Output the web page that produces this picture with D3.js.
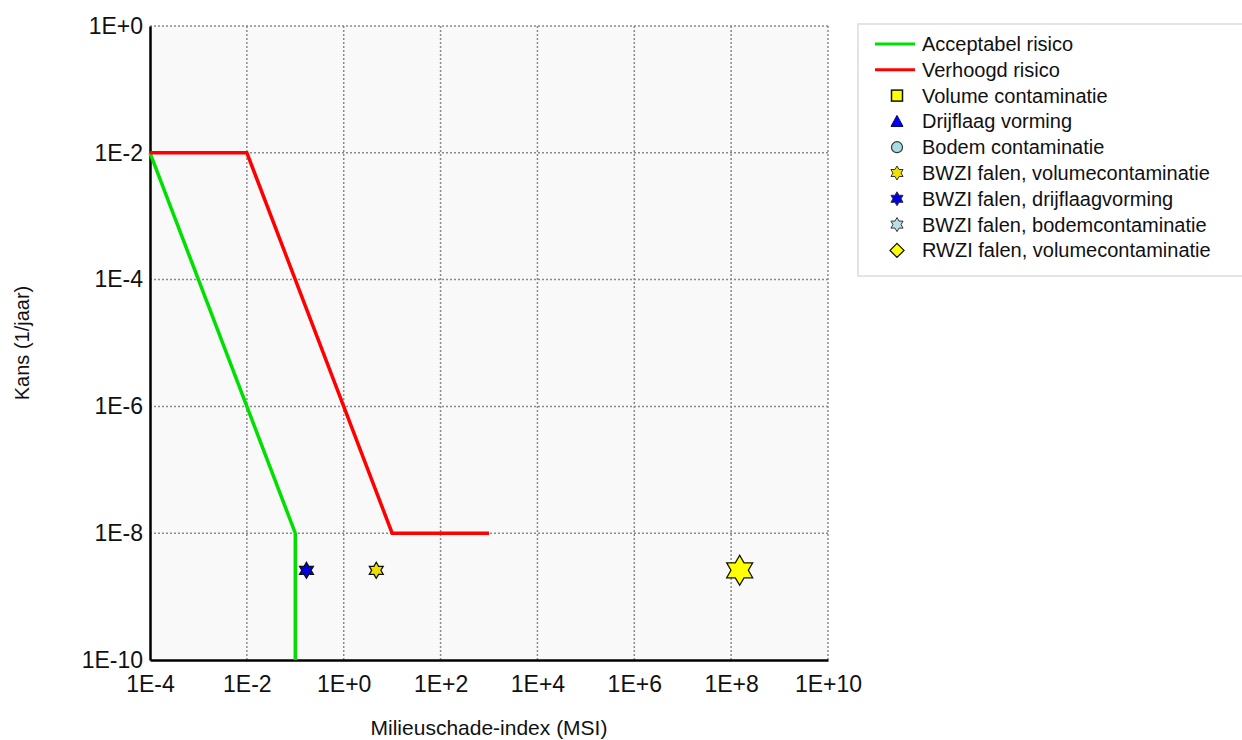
<!DOCTYPE html>
<html><head><meta charset="utf-8">
<script src="https://cdn.jsdelivr.net/npm/d3@7"></script>
<style>
html,body{margin:0;padding:0;background:#fff;}
text{font-family:"Liberation Sans",Arial,sans-serif;fill:#111;}
</style></head>
<body><svg id="c" width="1242" height="740"></svg>
<script>
// ---- data ----
const xTicks = [1e-4,1e-2,1e0,1e2,1e4,1e6,1e8,1e10];
const xTickLabels = ["1E-4","1E-2","1E+0","1E+2","1E+4","1E+6","1E+8","1E+10"];
const yTicks = [1e0,1e-2,1e-4,1e-6,1e-8,1e-10];
const yTickLabels = ["1E+0","1E-2","1E-4","1E-6","1E-8","1E-10"];
const acceptabelX = [1e-4, 1e-2, 0.1, 0.1];
const acceptabelY = [1e-2, 1e-6, 1e-8, 1e-10];
const verhoogdX = [1e-4, 1e-2, 10, 1000];
const verhoogdY = [1e-2, 1e-2, 1e-8, 1e-8];
const bwziDrijflaagX = [0.17];
const bwziDrijflaagY = [2.6e-9];
const bwziVolumeX = [4.7];
const bwziVolumeY = [2.6e-9];
const bwziVolumeLargeX = [1.5e8];
const bwziVolumeLargeY = [2.6e-9];
const legendLabels = ["Acceptabel risico","Verhoogd risico","Volume contaminatie","Drijflaag vorming","Bodem contaminatie","BWZI falen, volumecontaminatie","BWZI falen, drijflaagvorming","BWZI falen, bodemcontaminatie","RWZI falen, volumecontaminatie"];
const legendTypes = ["line","line","square","triangle","circle","star","star","star","diamond"];
const legendColors = ["#00e000","#ff0000","#ffff00","#0000ff","#a8dce0","#f0e000","#0000e0","#b8e0e8","#ffff00"];

// ---- layout ----
const svg = d3.select("#c");
const L=150, R=828, T=26, B=660;
const x = d3.scaleLog().domain([1e-4,1e10]).range([L,R]);
const y = d3.scaleLog().domain([1e-10,1e0]).range([B,T]);

svg.append("rect").attr("x",L).attr("y",T).attr("width",R-L).attr("height",B-T).attr("fill","#f9f9f9");

// grid
const grid = svg.append("g").attr("stroke","#8a8a8a").attr("stroke-width",1.5).attr("stroke-dasharray","2,2");
grid.selectAll(".gx").data(xTicks.slice(1)).join("line")
  .attr("x1",d=>x(d)).attr("x2",d=>x(d)).attr("y1",T).attr("y2",B);
grid.selectAll(".gy").data(yTicks.slice(0,-1)).join("line")
  .attr("x1",L).attr("x2",R).attr("y1",d=>y(d)).attr("y2",d=>y(d));

// axes
const xAxis = d3.axisBottom(x).tickValues(xTicks).tickFormat((d,i)=>xTickLabels[i]).tickSize(0).tickPadding(16);
const gx = svg.append("g").attr("transform",`translate(0,${B})`).call(xAxis);
gx.select(".domain").attr("stroke","#000").attr("stroke-width",2.5);
gx.selectAll("text").attr("font-size",23).attr("font-family","Liberation Sans, Arial, sans-serif").attr("fill","#111");

const yAxis = d3.axisLeft(y).tickValues(yTicks).tickFormat((d,i)=>yTickLabels[i]).tickSize(0).tickPadding(7);
const gy = svg.append("g").attr("transform",`translate(${L},0)`).call(yAxis);
gy.select(".domain").attr("stroke","#000").attr("stroke-width",2.5);
gy.selectAll("text").attr("font-size",23).attr("font-family","Liberation Sans, Arial, sans-serif").attr("fill","#111");

// titles
svg.append("text").attr("x",(L+R)/2).attr("y",735).attr("text-anchor","middle").attr("font-size",21).text("Milieuschade-index (MSI)");
svg.append("text").attr("transform",`translate(29,${(T+B)/2}) rotate(-90)`).attr("text-anchor","middle").attr("font-size",20).text("Kans (1/jaar)");

// lines
const line = d3.line().x(d=>x(d[0])).y(d=>y(d[1]));
svg.append("path").datum(d3.zip(acceptabelX,acceptabelY)).attr("d",line).attr("fill","none").attr("stroke","#00e000").attr("stroke-width",3.5);
svg.append("path").datum(d3.zip(verhoogdX,verhoogdY)).attr("d",line).attr("fill","none").attr("stroke","#ff0000").attr("stroke-width",3.5);

// star symbol (hexagram)
function star(r){
  const pts=[];
  for(let i=0;i<12;i++){
    const a=-Math.PI/2+i*Math.PI/6;
    const rr = i%2===0 ? r : r*0.58;
    pts.push([rr*Math.cos(a), rr*Math.sin(a)]);
  }
  return "M"+pts.map(p=>p[0].toFixed(2)+","+p[1].toFixed(2)).join("L")+"Z";
}
function drawStars(xs,ys,r,fill){
  svg.append("g").selectAll("path").data(d3.zip(xs,ys)).join("path")
    .attr("transform",d=>`translate(${x(d[0])},${y(d[1])})`)
    .attr("d",star(r)).attr("fill",fill).attr("stroke","#111").attr("stroke-width",1.3);
}
drawStars(bwziDrijflaagX,bwziDrijflaagY,8,"#0000e0");
drawStars(bwziVolumeX,bwziVolumeY,8,"#f0e000");
drawStars(bwziVolumeLargeX,bwziVolumeLargeY,15,"#ffff00");

// legend
const lg = svg.append("g");
lg.append("rect").attr("x",858).attr("y",24).attr("width",400).attr("height",252).attr("fill","#fff").attr("stroke","#dcdcdc").attr("stroke-width",1.5);
const rowY = i => 44 + i*25.8;
legendLabels.forEach((lab,i)=>{
  const cy = rowY(i), cx = 897;
  const t = legendTypes[i], c = legendColors[i];
  if(t==="line"){
    lg.append("line").attr("x1",875).attr("x2",915).attr("y1",cy).attr("y2",cy).attr("stroke",c).attr("stroke-width",3);
  } else if(t==="square"){
    lg.append("rect").attr("x",cx-5.5).attr("y",cy-5.5).attr("width",11).attr("height",11).attr("fill",c).attr("stroke","#111").attr("stroke-width",1.5);
  } else if(t==="triangle"){
    lg.append("path").attr("d",`M${cx},${cy-6}L${cx+6},${cy+5}L${cx-6},${cy+5}Z`).attr("fill",c).attr("stroke","#000066").attr("stroke-width",1);
  } else if(t==="circle"){
    lg.append("circle").attr("cx",cx).attr("cy",cy).attr("r",5.5).attr("fill",c).attr("stroke","#333").attr("stroke-width",1.2);
  } else if(t==="star"){
    lg.append("path").attr("transform",`translate(${cx},${cy})`).attr("d",star(7)).attr("fill",c).attr("stroke","#333").attr("stroke-width",1);
  } else if(t==="diamond"){
    lg.append("path").attr("d",`M${cx},${cy-7}L${cx+7},${cy}L${cx},${cy+7}L${cx-7},${cy}Z`).attr("fill",c).attr("stroke","#111").attr("stroke-width",1.3);
  }
  lg.append("text").attr("x",922).attr("y",cy+7).attr("font-size",20).text(lab);
});
</script></body></html>
